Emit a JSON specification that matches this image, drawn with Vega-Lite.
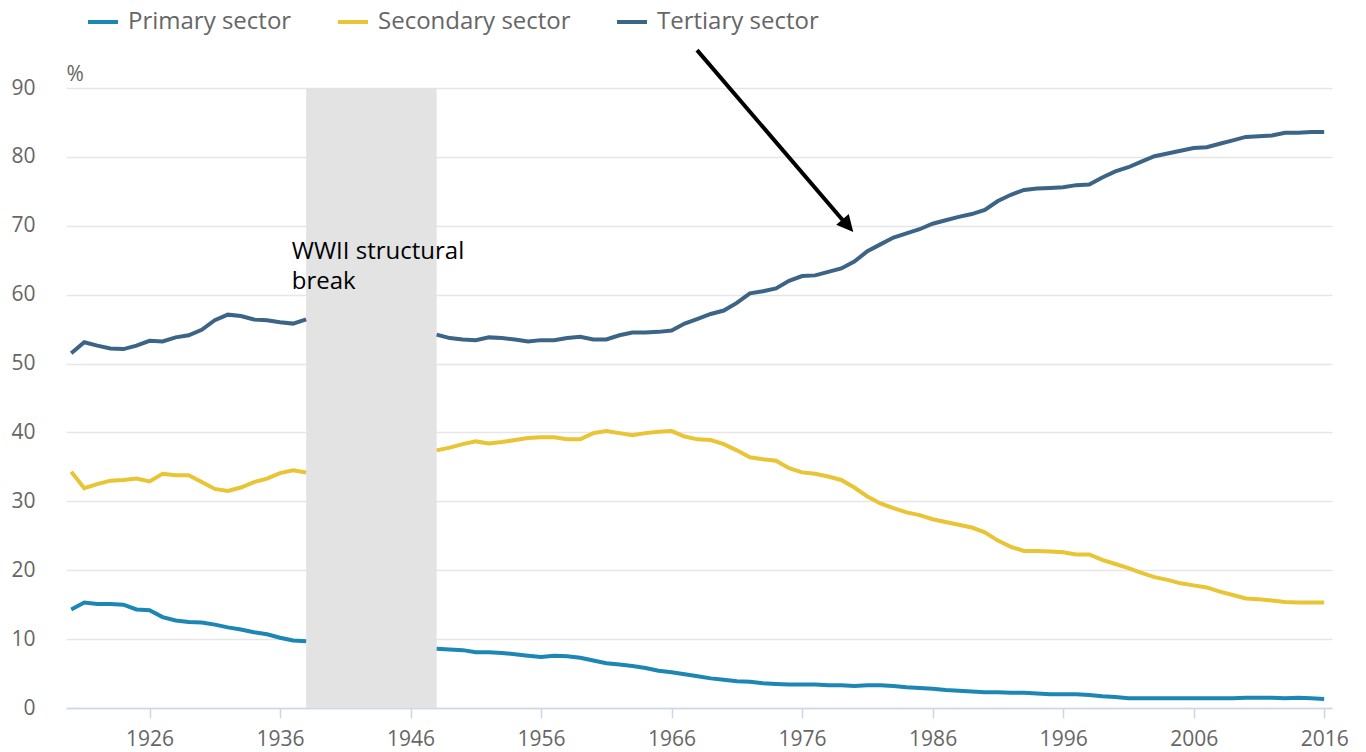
{
  "$schema": "https://vega.github.io/schema/vega-lite/v6.json",
  "width": 1266,
  "height": 620,
  "autosize": {"type": "none"},
  "padding": {"left": 66, "top": 88, "right": 34, "bottom": 44},
  "background": "white",
  "config": {
    "view": {"stroke": null},
    "font": "Open Sans",
    "axisX": {
      "grid": false, "domainColor": "#ccd6eb", "domainWidth": 1.5,
      "tickColor": "#ccd6eb", "tickSize": 10, "tickWidth": 1.5,
      "labelFontSize": 21, "labelColor": "#666666", "labelPadding": 10, "labelFont": "Open Sans"
    },
    "axisY": {
      "domain": false, "ticks": false, "tickSize": 0,
      "grid": true, "gridColor": "#e6e6e6", "gridWidth": 1.5,
      "labelFontSize": 21, "labelColor": "#666666", "labelPadding": 31, "labelFont": "Open Sans",
      "titleAngle": 0, "titleAlign": "left", "titleBaseline": "alphabetic",
      "titleX": 0, "titleY": -8, "titleFontSize": 21, "titleFontWeight": "normal", "titleColor": "#666666", "titleFont": "Open Sans"
    }
  },
  "datasets": {
    "sectors": [
      {"year": 1920, "period": "pre", "Primary sector": 14.3, "Secondary sector": 34.3, "Tertiary sector": 51.5},
      {"year": 1921, "period": "pre", "Primary sector": 15.3, "Secondary sector": 31.9, "Tertiary sector": 53.1},
      {"year": 1922, "period": "pre", "Primary sector": 15.1, "Secondary sector": 32.5, "Tertiary sector": 52.6},
      {"year": 1923, "period": "pre", "Primary sector": 15.1, "Secondary sector": 33.0, "Tertiary sector": 52.2},
      {"year": 1924, "period": "pre", "Primary sector": 15.0, "Secondary sector": 33.1, "Tertiary sector": 52.1},
      {"year": 1925, "period": "pre", "Primary sector": 14.3, "Secondary sector": 33.3, "Tertiary sector": 52.6},
      {"year": 1926, "period": "pre", "Primary sector": 14.2, "Secondary sector": 32.9, "Tertiary sector": 53.3},
      {"year": 1927, "period": "pre", "Primary sector": 13.2, "Secondary sector": 34.0, "Tertiary sector": 53.2},
      {"year": 1928, "period": "pre", "Primary sector": 12.7, "Secondary sector": 33.8, "Tertiary sector": 53.8},
      {"year": 1929, "period": "pre", "Primary sector": 12.5, "Secondary sector": 33.8, "Tertiary sector": 54.1},
      {"year": 1930, "period": "pre", "Primary sector": 12.4, "Secondary sector": 32.8, "Tertiary sector": 54.9},
      {"year": 1931, "period": "pre", "Primary sector": 12.1, "Secondary sector": 31.8, "Tertiary sector": 56.3},
      {"year": 1932, "period": "pre", "Primary sector": 11.7, "Secondary sector": 31.5, "Tertiary sector": 57.1},
      {"year": 1933, "period": "pre", "Primary sector": 11.4, "Secondary sector": 32.0, "Tertiary sector": 56.9},
      {"year": 1934, "period": "pre", "Primary sector": 11.0, "Secondary sector": 32.8, "Tertiary sector": 56.4},
      {"year": 1935, "period": "pre", "Primary sector": 10.7, "Secondary sector": 33.3, "Tertiary sector": 56.3},
      {"year": 1936, "period": "pre", "Primary sector": 10.2, "Secondary sector": 34.1, "Tertiary sector": 56.0},
      {"year": 1937, "period": "pre", "Primary sector": 9.8, "Secondary sector": 34.5, "Tertiary sector": 55.8},
      {"year": 1938, "period": "pre", "Primary sector": 9.7, "Secondary sector": 34.2, "Tertiary sector": 56.4},
      {"year": 1948, "period": "post", "Primary sector": 8.6, "Secondary sector": 37.4, "Tertiary sector": 54.2},
      {"year": 1949, "period": "post", "Primary sector": 8.5, "Secondary sector": 37.8, "Tertiary sector": 53.7},
      {"year": 1950, "period": "post", "Primary sector": 8.4, "Secondary sector": 38.3, "Tertiary sector": 53.5},
      {"year": 1951, "period": "post", "Primary sector": 8.1, "Secondary sector": 38.7, "Tertiary sector": 53.4},
      {"year": 1952, "period": "post", "Primary sector": 8.1, "Secondary sector": 38.4, "Tertiary sector": 53.8},
      {"year": 1953, "period": "post", "Primary sector": 8.0, "Secondary sector": 38.6, "Tertiary sector": 53.7},
      {"year": 1954, "period": "post", "Primary sector": 7.8, "Secondary sector": 38.9, "Tertiary sector": 53.5},
      {"year": 1955, "period": "post", "Primary sector": 7.6, "Secondary sector": 39.2, "Tertiary sector": 53.2},
      {"year": 1956, "period": "post", "Primary sector": 7.4, "Secondary sector": 39.3, "Tertiary sector": 53.4},
      {"year": 1957, "period": "post", "Primary sector": 7.6, "Secondary sector": 39.3, "Tertiary sector": 53.4},
      {"year": 1958, "period": "post", "Primary sector": 7.5, "Secondary sector": 39.0, "Tertiary sector": 53.7},
      {"year": 1959, "period": "post", "Primary sector": 7.3, "Secondary sector": 39.0, "Tertiary sector": 53.9},
      {"year": 1960, "period": "post", "Primary sector": 6.9, "Secondary sector": 39.9, "Tertiary sector": 53.5},
      {"year": 1961, "period": "post", "Primary sector": 6.5, "Secondary sector": 40.2, "Tertiary sector": 53.5},
      {"year": 1962, "period": "post", "Primary sector": 6.3, "Secondary sector": 39.9, "Tertiary sector": 54.1},
      {"year": 1963, "period": "post", "Primary sector": 6.1, "Secondary sector": 39.6, "Tertiary sector": 54.5},
      {"year": 1964, "period": "post", "Primary sector": 5.8, "Secondary sector": 39.9, "Tertiary sector": 54.5},
      {"year": 1965, "period": "post", "Primary sector": 5.4, "Secondary sector": 40.1, "Tertiary sector": 54.6},
      {"year": 1966, "period": "post", "Primary sector": 5.2, "Secondary sector": 40.2, "Tertiary sector": 54.8},
      {"year": 1967, "period": "post", "Primary sector": 4.9, "Secondary sector": 39.4, "Tertiary sector": 55.8},
      {"year": 1968, "period": "post", "Primary sector": 4.6, "Secondary sector": 39.0, "Tertiary sector": 56.5},
      {"year": 1969, "period": "post", "Primary sector": 4.3, "Secondary sector": 38.9, "Tertiary sector": 57.2},
      {"year": 1970, "period": "post", "Primary sector": 4.1, "Secondary sector": 38.3, "Tertiary sector": 57.7},
      {"year": 1971, "period": "post", "Primary sector": 3.9, "Secondary sector": 37.4, "Tertiary sector": 58.8},
      {"year": 1972, "period": "post", "Primary sector": 3.8, "Secondary sector": 36.4, "Tertiary sector": 60.2},
      {"year": 1973, "period": "post", "Primary sector": 3.6, "Secondary sector": 36.1, "Tertiary sector": 60.5},
      {"year": 1974, "period": "post", "Primary sector": 3.5, "Secondary sector": 35.9, "Tertiary sector": 60.9},
      {"year": 1975, "period": "post", "Primary sector": 3.4, "Secondary sector": 34.8, "Tertiary sector": 62.0},
      {"year": 1976, "period": "post", "Primary sector": 3.4, "Secondary sector": 34.2, "Tertiary sector": 62.7},
      {"year": 1977, "period": "post", "Primary sector": 3.4, "Secondary sector": 34.0, "Tertiary sector": 62.8},
      {"year": 1978, "period": "post", "Primary sector": 3.3, "Secondary sector": 33.6, "Tertiary sector": 63.3},
      {"year": 1979, "period": "post", "Primary sector": 3.3, "Secondary sector": 33.1, "Tertiary sector": 63.8},
      {"year": 1980, "period": "post", "Primary sector": 3.2, "Secondary sector": 32.0, "Tertiary sector": 64.8},
      {"year": 1981, "period": "post", "Primary sector": 3.3, "Secondary sector": 30.7, "Tertiary sector": 66.3},
      {"year": 1982, "period": "post", "Primary sector": 3.3, "Secondary sector": 29.7, "Tertiary sector": 67.3},
      {"year": 1983, "period": "post", "Primary sector": 3.2, "Secondary sector": 29.0, "Tertiary sector": 68.3},
      {"year": 1984, "period": "post", "Primary sector": 3.0, "Secondary sector": 28.4, "Tertiary sector": 68.9},
      {"year": 1985, "period": "post", "Primary sector": 2.9, "Secondary sector": 28.0, "Tertiary sector": 69.5},
      {"year": 1986, "period": "post", "Primary sector": 2.8, "Secondary sector": 27.4, "Tertiary sector": 70.3},
      {"year": 1987, "period": "post", "Primary sector": 2.6, "Secondary sector": 27.0, "Tertiary sector": 70.8},
      {"year": 1988, "period": "post", "Primary sector": 2.5, "Secondary sector": 26.6, "Tertiary sector": 71.3},
      {"year": 1989, "period": "post", "Primary sector": 2.4, "Secondary sector": 26.2, "Tertiary sector": 71.7},
      {"year": 1990, "period": "post", "Primary sector": 2.3, "Secondary sector": 25.5, "Tertiary sector": 72.3},
      {"year": 1991, "period": "post", "Primary sector": 2.3, "Secondary sector": 24.3, "Tertiary sector": 73.6},
      {"year": 1992, "period": "post", "Primary sector": 2.2, "Secondary sector": 23.4, "Tertiary sector": 74.5},
      {"year": 1993, "period": "post", "Primary sector": 2.2, "Secondary sector": 22.8, "Tertiary sector": 75.2},
      {"year": 1994, "period": "post", "Primary sector": 2.1, "Secondary sector": 22.8, "Tertiary sector": 75.4},
      {"year": 1995, "period": "post", "Primary sector": 2.0, "Secondary sector": 22.7, "Tertiary sector": 75.5},
      {"year": 1996, "period": "post", "Primary sector": 2.0, "Secondary sector": 22.6, "Tertiary sector": 75.6},
      {"year": 1997, "period": "post", "Primary sector": 2.0, "Secondary sector": 22.3, "Tertiary sector": 75.9},
      {"year": 1998, "period": "post", "Primary sector": 1.9, "Secondary sector": 22.3, "Tertiary sector": 76.0},
      {"year": 1999, "period": "post", "Primary sector": 1.7, "Secondary sector": 21.5, "Tertiary sector": 77.0},
      {"year": 2000, "period": "post", "Primary sector": 1.6, "Secondary sector": 20.9, "Tertiary sector": 77.9},
      {"year": 2001, "period": "post", "Primary sector": 1.4, "Secondary sector": 20.3, "Tertiary sector": 78.5},
      {"year": 2002, "period": "post", "Primary sector": 1.4, "Secondary sector": 19.6, "Tertiary sector": 79.3},
      {"year": 2003, "period": "post", "Primary sector": 1.4, "Secondary sector": 19.0, "Tertiary sector": 80.1},
      {"year": 2004, "period": "post", "Primary sector": 1.4, "Secondary sector": 18.6, "Tertiary sector": 80.5},
      {"year": 2005, "period": "post", "Primary sector": 1.4, "Secondary sector": 18.1, "Tertiary sector": 80.9},
      {"year": 2006, "period": "post", "Primary sector": 1.4, "Secondary sector": 17.8, "Tertiary sector": 81.3},
      {"year": 2007, "period": "post", "Primary sector": 1.4, "Secondary sector": 17.5, "Tertiary sector": 81.4},
      {"year": 2008, "period": "post", "Primary sector": 1.4, "Secondary sector": 16.9, "Tertiary sector": 81.9},
      {"year": 2009, "period": "post", "Primary sector": 1.4, "Secondary sector": 16.4, "Tertiary sector": 82.4},
      {"year": 2010, "period": "post", "Primary sector": 1.5, "Secondary sector": 15.9, "Tertiary sector": 82.9},
      {"year": 2011, "period": "post", "Primary sector": 1.5, "Secondary sector": 15.8, "Tertiary sector": 83.0},
      {"year": 2012, "period": "post", "Primary sector": 1.5, "Secondary sector": 15.6, "Tertiary sector": 83.1},
      {"year": 2013, "period": "post", "Primary sector": 1.4, "Secondary sector": 15.4, "Tertiary sector": 83.5},
      {"year": 2014, "period": "post", "Primary sector": 1.5, "Secondary sector": 15.3, "Tertiary sector": 83.5},
      {"year": 2015, "period": "post", "Primary sector": 1.4, "Secondary sector": 15.3, "Tertiary sector": 83.6},
      {"year": 2016, "period": "post", "Primary sector": 1.3, "Secondary sector": 15.3, "Tertiary sector": 83.6}
    ]
  },
  "layer": [
    {
      "data": {"values": [{"event": "WWII"}]},
      "mark": {"type": "rect", "color": "#e3e3e3"},
      "encoding": {
        "x": {"datum": 1938, "type": "quantitative",
          "scale": {"domain": [1919.6, 2016.6], "nice": false, "zero": false},
          "axis": {"title": null, "values": [1926, 1936, 1946, 1956, 1966, 1976, 1986, 1996, 2006, 2016], "format": "d"}},
        "x2": {"datum": 1948},
        "y": {"datum": 0, "type": "quantitative",
          "scale": {"domain": [0, 90], "nice": false},
          "axis": {"title": "%", "values": [0, 10, 20, 30, 40, 50, 60, 70, 80, 90]}},
        "y2": {"datum": 90}
      }
    },
    {
      "data": {"name": "sectors"},
      "transform": [{"fold": ["Primary sector", "Secondary sector", "Tertiary sector"], "as": ["sector", "value"]}],
      "mark": {"type": "line", "strokeWidth": 4},
      "encoding": {
        "x": {
          "field": "year", "type": "quantitative",
          "scale": {"domain": [1919.6, 2016.6], "nice": false, "zero": false},
          "axis": {"title": null, "values": [1926, 1936, 1946, 1956, 1966, 1976, 1986, 1996, 2006, 2016], "format": "d"}
        },
        "y": {
          "field": "value", "type": "quantitative",
          "scale": {"domain": [0, 90], "nice": false},
          "axis": {"title": "%", "values": [0, 10, 20, 30, 40, 50, 60, 70, 80, 90]}
        },
        "color": {
          "field": "sector", "type": "nominal",
          "scale": {"domain": ["Primary sector", "Secondary sector", "Tertiary sector"], "range": ["#1c87b5", "#e9c434", "#3c6487"]},
          "legend": {
            "title": null, "orient": "none", "direction": "horizontal", "legendX": 20, "legendY": -83,
            "symbolType": "stroke", "symbolSize": 900, "symbolStrokeWidth": 4,
            "labelFontSize": 24, "labelColor": "#666666", "labelFont": "Open Sans", "labelOffset": 8, "labelLimit": 0,
            "columnPadding": 38, "padding": 0
          }
        },
        "detail": {"field": "period", "type": "nominal"}
      }
    },
    {
      "data": {"values": [{"note": "WWII structural break"}]},
      "mark": {"type": "text", "text": ["WWII structural", "break"], "align": "left", "baseline": "alphabetic", "fontSize": 24, "lineHeight": 30, "color": "#000000", "font": "Open Sans"},
      "encoding": {
        "x": {"datum": 1936.9, "type": "quantitative"},
        "y": {"datum": 65.2, "type": "quantitative"}
      }
    },
    {
      "data": {"values": [{"note": "arrow"}]},
      "mark": {"type": "rule", "color": "#000000", "strokeWidth": 4},
      "encoding": {
        "x": {"datum": 1967.95, "type": "quantitative"},
        "y": {"datum": 95.5, "type": "quantitative"},
        "x2": {"datum": 1979.3},
        "y2": {"datum": 70.4}
      }
    },
    {
      "data": {"values": [{"note": "arrowhead"}]},
      "mark": {"type": "point", "shape": "M0,0 L-0.5,-1 L0.5,-1 Z", "size": 1100, "angle": 319.4, "filled": true, "color": "#000000", "opacity": 1},
      "encoding": {
        "x": {"datum": 1979.92, "type": "quantitative"},
        "y": {"datum": 69.1, "type": "quantitative"}
      }
    }
  ]
}
